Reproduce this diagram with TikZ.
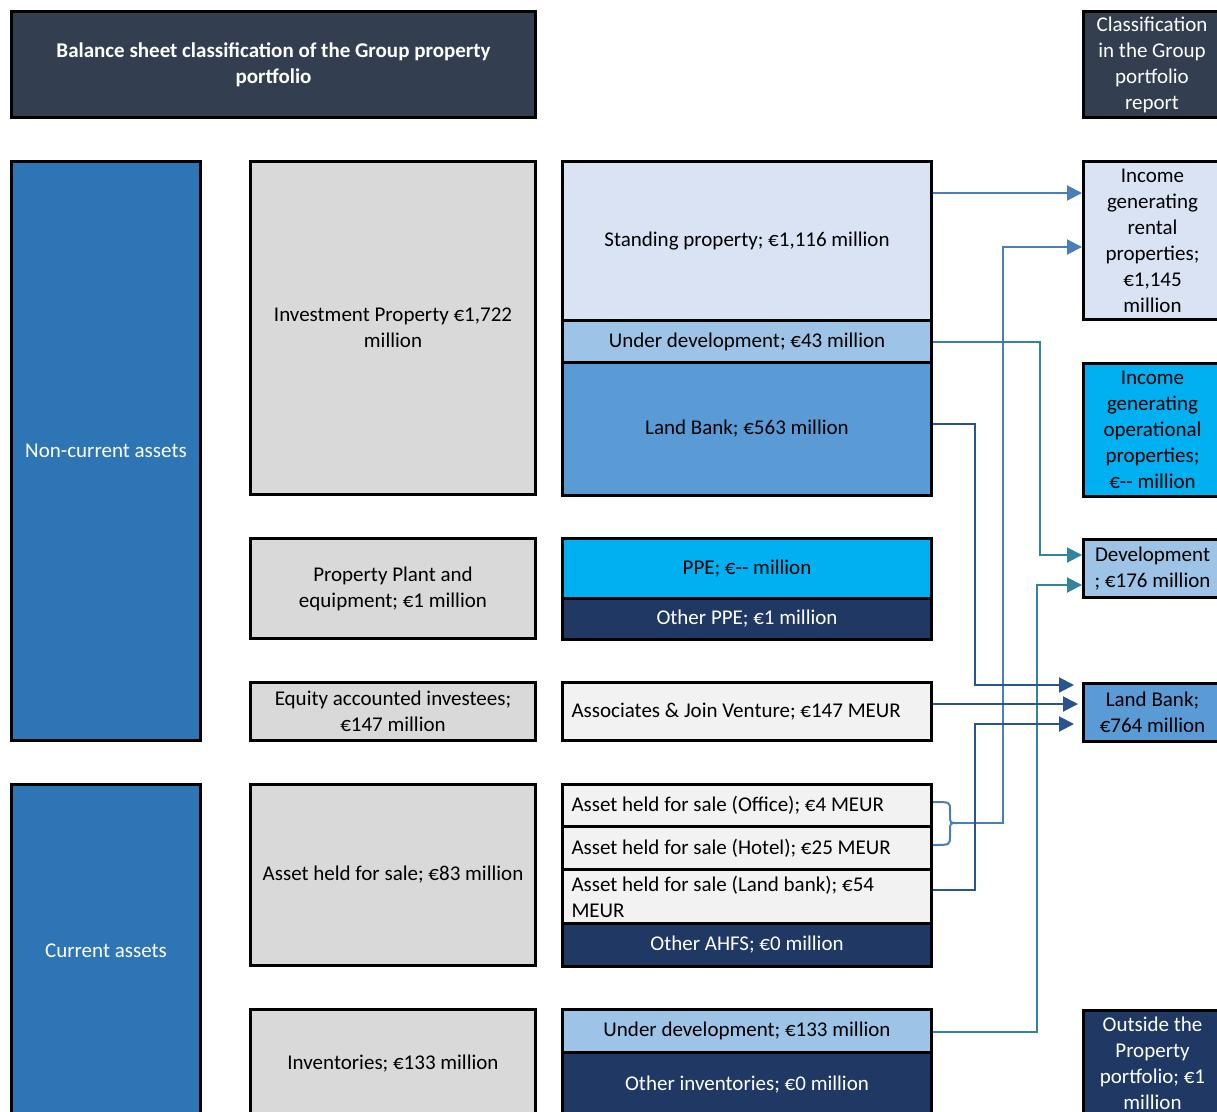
\documentclass[tikz,border=0pt]{standalone}
\usepackage{fontspec}
\setmainfont{Carlito}
\usetikzlibrary{arrows.meta}

\definecolor{hdrgrey}{HTML}{333F50}
\definecolor{colblue}{HTML}{2E75B6}
\definecolor{cellgrey}{HTML}{D9D9D9}
\definecolor{paleblue}{HTML}{DAE3F3}
\definecolor{midblue}{HTML}{9DC3E6}
\definecolor{bankblue}{HTML}{5B9BD5}
\definecolor{cyanblue}{HTML}{00B0F0}
\definecolor{navy}{HTML}{203864}
\definecolor{lightgrey}{HTML}{F2F2F2}
\definecolor{arrowA}{HTML}{4A7EBB}
\definecolor{arrowT}{HTML}{31849B}
\definecolor{arrowD}{HTML}{2A5490}

\newcommand{\cellfont}{\fontsize{21}{26}\selectfont}

\tikzset{
  cell/.style={draw=black, line width=3pt, anchor=north west, inner sep=0pt,
    align=center, font=\cellfont},
  sz/.style 2 args={minimum width=#1pt, minimum height=#2pt},
  lefttext/.style={text width=#1pt, align=flush left},
  con/.style={line width=2pt, -{Triangle[length=15pt,width=15pt]}},
}

\begin{document}
\begin{tikzpicture}[x=1pt, y=-1pt]
\useasboundingbox (0,0) rectangle (1217,1111);

% headers
\node [cell, fill=hdrgrey, text=white, font=\cellfont\bfseries, sz={524}{106}] (title) at (10,10)
  {Balance sheet classification of the Group property\\portfolio};
\node [cell, fill=hdrgrey, text=white, sz={137}{106}] (report) at (1082,10)
  {Classification\\in the Group\\portfolio\\report};

% first column
\node [cell, fill=colblue, text=white, sz={189}{579}] (noncur) at (10,160) {Non-current assets};
\node [cell, fill=colblue, text=white, sz={189}{333}] (cur) at (10,783) {Current assets};

% second column
\node [cell, fill=cellgrey, sz={285}{333}] (invprop) at (249,160) {Investment Property €1,722\\million};
\node [cell, fill=cellgrey, sz={285}{100}] (ppe) at (249,537) {Property Plant and\\equipment; €1 million};
\node [cell, fill=cellgrey, sz={285}{58}] (equity) at (249,681) {Equity accounted investees;\\€147 million};
\node [cell, fill=cellgrey, sz={285}{181}] (ahfs) at (249,783) {Asset held for sale; €83 million};
\node [cell, fill=cellgrey, sz={285}{108}] (invent) at (249,1008) {Inventories; €133 million};

% third column
\node [cell, fill=paleblue, sz={369}{159}] (stand) at (561,160) {Standing property; €1,116 million};
\node [cell, fill=midblue, sz={369}{42}] (udev) at (561,319) {Under development; €43 million};
\node [cell, fill=bankblue, sz={369}{133}] (land) at (561,361) {Land Bank; €563 million};
\node [cell, fill=cyanblue, sz={369}{60}] (ppeone) at (561,537) {PPE; €-{}- million};
\node [cell, fill=navy, text=white, sz={369}{41}] (otherppe) at (561,597) {Other PPE; €1 million};
\node [cell, fill=lightgrey, sz={369}{58}, inner xsep=9pt, lefttext=351] (assoc) at (561,681)
  {Associates \& Join Venture; €147 MEUR};
\node [cell, fill=lightgrey, sz={369}{42}, inner xsep=9pt, lefttext=351] (office) at (561,783)
  {Asset held for sale (Office); €4 MEUR};
\node [cell, fill=lightgrey, sz={369}{43}, inner xsep=9pt, lefttext=351] (hotel) at (561,825)
  {Asset held for sale (Hotel); €25 MEUR};
\node [cell, fill=lightgrey, sz={369}{54}, inner xsep=9pt, lefttext=351] (ahland) at (561,868)
  {Asset held for sale (Land bank); €54\\MEUR};
\node [cell, fill=navy, text=white, sz={369}{43}] (otherahfs) at (561,922) {Other AHFS; €0 million};
\node [cell, fill=midblue, sz={369}{43}] (invdev) at (561,1008) {Under development; €133 million};
\node [cell, fill=navy, text=white, sz={369}{65}] (otherinv) at (561,1051) {Other inventories; €0 million};

% fourth column
\node [cell, fill=paleblue, sz={138}{158}] (rental) at (1082,160)
  {Income\\generating\\rental\\properties;\\€1,145\\million};
\node [cell, fill=cyanblue, sz={138}{133}] (oper) at (1082,362)
  {Income\\generating\\operational\\properties;\\€-{}- million};
\node [cell, fill=midblue, sz={138}{58}] (develop) at (1082,538) {Development\\; €176 million};
\node [cell, fill=bankblue, sz={138}{58}] (lbank) at (1082,682) {Land Bank;\\€764 million};
\node [cell, fill=navy, text=white, sz={138}{106}] (outside) at (1082,1009)
  {Outside the\\Property\\portfolio; €1\\million};

% connectors
\coordinate (tip) at (957,823);
\draw [con, draw=arrowA] (stand.east |- 0,193) -- (rental.west |- 0,193);
\draw [line width=2pt, draw=arrowA] (office.east |- 0,802) .. controls (950,802) .. (950,810)
  -- (950,815) .. controls (950,823) .. (tip) .. controls (950,823) .. (950,831)
  -- (950,836) .. controls (950,845) .. (hotel.east |- 0,845);
\draw [con, draw=arrowA] (tip) -| (1003,247) -- (rental.west |- 0,247);
\draw [con, draw=arrowT] (udev.east) -| (1040,555) -- (develop.west |- 0,555);
\draw [con, draw=arrowT] (invdev.east |- 0,1032) -| (1037,585) -- (develop.west |- 0,585);
\draw [con, draw=arrowD, shorten >=8pt] (land.east |- 0,424) -| (975,685) -- (lbank.west |- 0,685);
\draw [con, draw=arrowD, shorten >=4pt] (assoc.east |- 0,704) -- (lbank.west |- 0,704);
\draw [con, draw=arrowD, shorten >=8pt] (ahland.east |- 0,890) -| (975,724) -- (lbank.west |- 0,724);
\end{tikzpicture}
\end{document}
